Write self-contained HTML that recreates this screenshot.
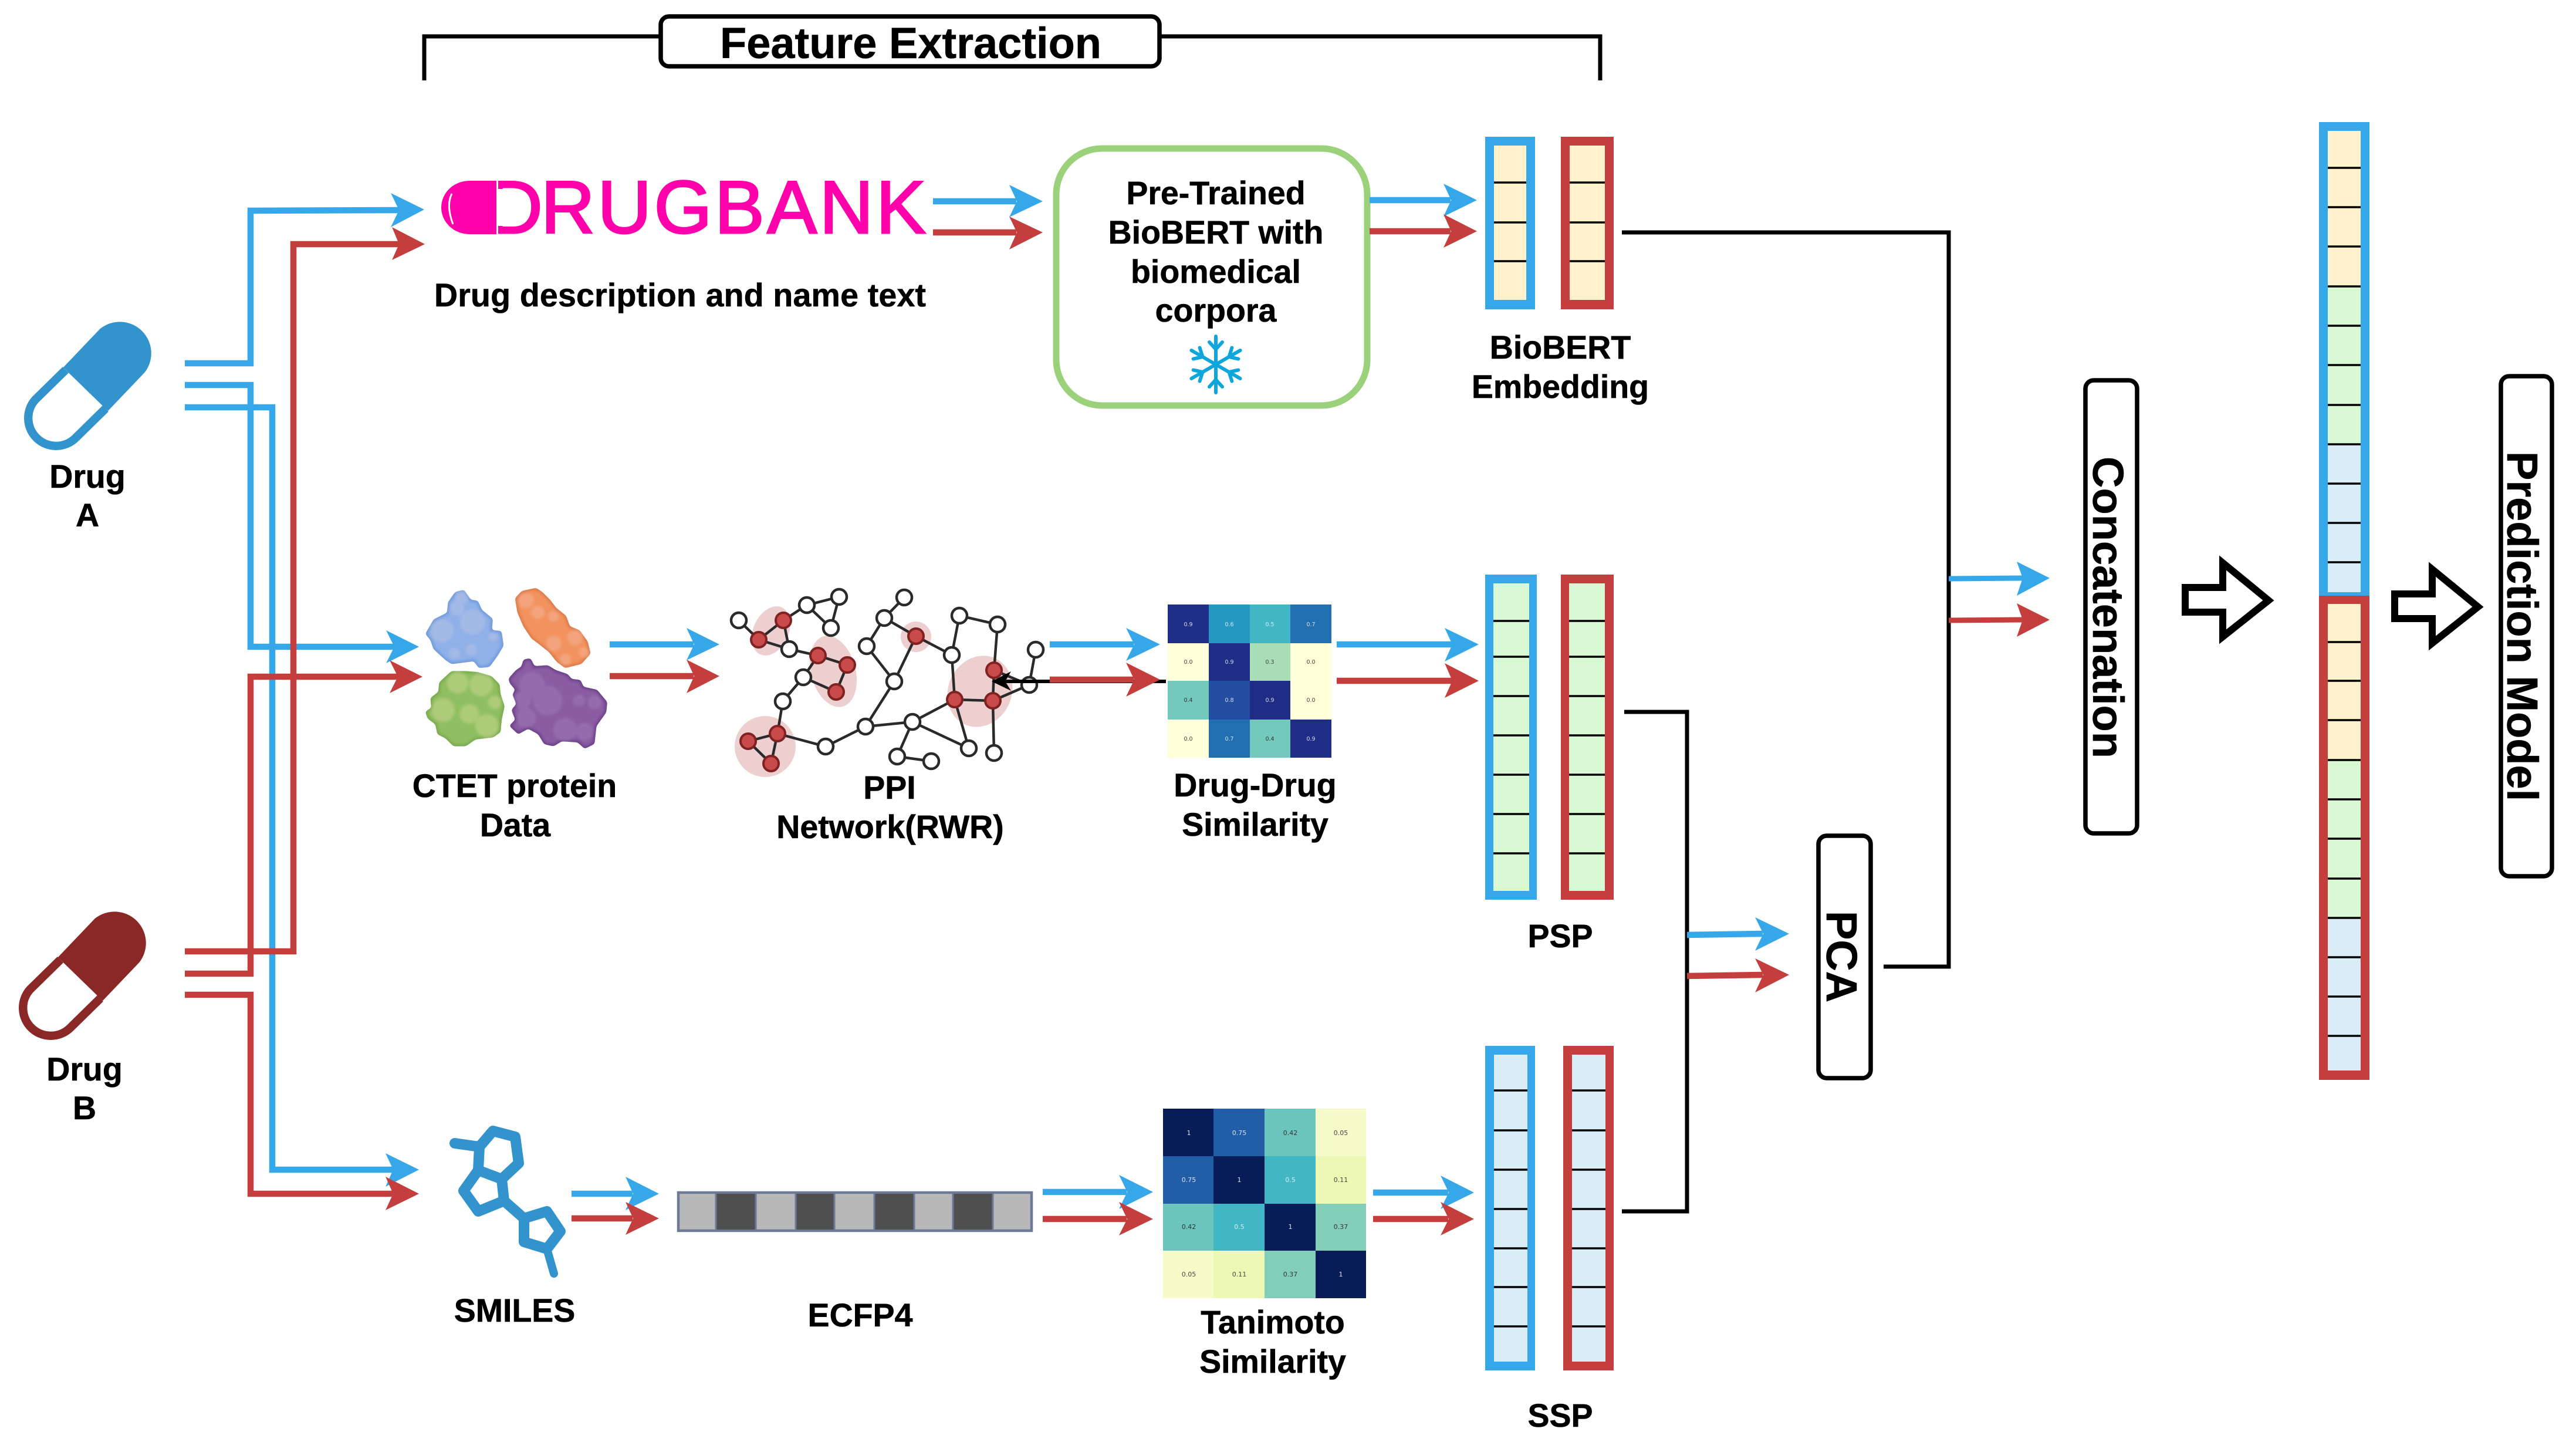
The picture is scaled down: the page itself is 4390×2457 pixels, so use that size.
<!DOCTYPE html>
<html><head><meta charset="utf-8"><title>Drug Interaction Pipeline</title>
<style>
html,body{margin:0;padding:0;background:#fff}
svg{display:block}
text{font-family:"Liberation Sans",Arial,sans-serif}
.l{font-size:55.5px;font-weight:700;text-anchor:middle;fill:#000;stroke:#000;stroke-width:.6}
.t{font-size:74px;font-weight:700;fill:#000;stroke:#000;stroke-width:.6}
.bl{fill:none;stroke:#36a7e9;stroke-width:10.5}
.rl{fill:none;stroke:#c43e3e;stroke-width:10.5}
.bh{fill:#36a7e9}.rh{fill:#c43e3e}
.k{fill:none;stroke:#000;stroke-width:7}
.box{fill:#fff;stroke:#000;stroke-width:7.5}
.sep{stroke:#000;stroke-width:3.5}
.h1{font-family:"DejaVu Sans",sans-serif;font-size:9.5px;text-anchor:middle}
.h2{font-family:"DejaVu Sans",sans-serif;font-size:11px;text-anchor:middle}
.e{stroke:#2a2a2a;stroke-width:4.5;fill:none}
.wn{fill:#fff;stroke:#2a2a2a;stroke-width:4.5}
.rn{fill:#c94a4a;stroke:#7e2222;stroke-width:4}
</style></head>
<body>
<svg xmlns="http://www.w3.org/2000/svg" width="4390" height="2457" viewBox="0 0 4390 2457">
<defs>
<filter id="goo" x="-10%" y="-10%" width="120%" height="120%" color-interpolation-filters="sRGB">
<feGaussianBlur stdDeviation="7"/>
<feComponentTransfer><feFuncA type="linear" slope="10" intercept="-4.5"/></feComponentTransfer>
</filter>
<clipPath id="cpB"><polygon points="140,300 180,230 250,195 255,140 290,90 330,80 365,130 400,135 420,180 475,225 470,285 520,290 530,360 500,410 460,465 410,470 385,435 270,450 240,430 180,375 165,330"/></clipPath>
<clipPath id="cpO"><polygon points="598,120 630,85 700,70 730,90 770,130 800,170 850,210 870,265 920,285 960,340 975,400 930,450 850,470 810,440 770,390 720,350 680,320 640,260 610,190"/></clipPath>
<clipPath id="cpG"><polygon points="140,700 170,680 165,630 205,600 210,550 270,495 340,495 400,500 470,520 510,560 515,610 535,670 520,740 515,800 480,825 390,835 340,870 280,870 240,830 200,810 190,760 150,730"/></clipPath>
<clipPath id="cpP"><polygon points="565,530 600,490 630,470 640,435 670,430 690,470 760,465 800,490 860,510 880,535 925,540 940,575 1010,590 1060,650 1055,700 1005,770 995,860 950,882 915,850 830,845 790,870 745,860 715,810 660,780 610,808 570,770 600,740 580,690 605,660 585,610 600,585 570,550"/></clipPath>
</defs>
<rect width="4390" height="2457" fill="#fff"/>

<!-- Feature extraction bracket -->
<polyline class="k" points="723,137 723,62 1128,62"/>
<polyline class="k" points="1975,62 2727,62 2727,137"/>
<rect x="1126" y="28" width="850" height="85" rx="14" class="box"/>
<text class="t" x="1227" y="99" textLength="650">Feature Extraction</text>

<!-- Pill A -->
<g transform="translate(151.5,655.5) scale(1.03) translate(-151.5,-655.5)">
<path d="M109,627 L170,563 A52,52 0 0 1 244,635 L183,699 Z" fill="#3394cd"/>
<path d="M113,631 L63,680 A46,46 0 0 0 129,744 L179,695" fill="none" stroke="#3394cd" stroke-width="14"/>
</g>
<text class="l" x="149" y="831">Drug</text>
<text class="l" x="149" y="897">A</text>
<!-- Pill B -->
<g transform="translate(-9,1005) translate(151.5,655.5) scale(1.03) translate(-151.5,-655.5)">
<path d="M109,627 L170,563 A52,52 0 0 1 244,635 L183,699 Z" fill="#8a2727"/>
<path d="M113,631 L63,680 A46,46 0 0 0 129,744 L179,695" fill="none" stroke="#8a2727" stroke-width="14"/>
</g>
<text class="l" x="144" y="1841">Drug</text>
<text class="l" x="144" y="1907">B</text>

<!-- Routing from drugs -->
<polyline class="bl" points="315,694 464,694 464,1993 672,1993"/>
<path class="bh" d="M657,1965 714,1993 657,2022 670,1993Z"/>
<polyline class="bl" points="315,619 427,619 427,359 682,358"/>
<path class="bh" d="M666,329 723,357 666,387 680,358Z"/>
<polyline class="bl" points="315,656 427,656 427,1102 672,1102"/>
<path class="bh" d="M658,1074 714,1102 658,1130 672,1102Z"/>
<polyline class="rl" points="315,1621 500,1621 500,416 682,416"/>
<path class="rh" d="M668,387 724,416 668,443 680,416Z"/>
<polyline class="rl" points="315,1659 427,1659 427,1153 680,1153"/>
<path class="rh" d="M664,1125 720,1153 664,1181 678,1153Z"/>
<polyline class="rl" points="315,1695 427,1695 427,2034 672,2034"/>
<path class="rh" d="M657,2005 714,2034 657,2062 670,2034Z"/>

<!-- Drugbank logo -->
<path d="M846,308 L800,308 A48,45.5 0 0 0 752,353.5 A48,45.5 0 0 0 800,399 L846,399 Z" fill="#ff00aa"/>
<path d="M770,330 Q760,350 772,382" fill="none" stroke="#fff" stroke-width="3"/>
<text fill="#ff00aa" stroke="#ff00aa" stroke-width="3" font-size="127"><tspan x="833" y="397">D</tspan><tspan x="922" y="397" letter-spacing="4.6">RUGBANK</tspan></text>
<rect x="846" y="322" width="16" height="63" fill="#fff"/>
<rect x="846" y="304" width="3" height="99" fill="#fff"/>
<text class="l" x="1159" y="522" textLength="838">Drug description and name text</text>

<!-- Drugbank -> BioBERT -->
<line class="bl" x1="1590" y1="343" x2="1732" y2="343"/>
<path class="bh" d="M1720,315 1777,343 1720,370 1733,343Z"/>
<line class="rl" x1="1590" y1="396" x2="1732" y2="396"/>
<path class="rh" d="M1720,369 1777,396 1720,425 1733,396Z"/>

<rect x="1800" y="253" width="530" height="438" rx="78" fill="#fff" stroke="#9bd17a" stroke-width="11"/>
<text class="l" x="2072" y="348">Pre-Trained</text>
<text class="l" x="2072" y="415">BioBERT with</text>
<text class="l" x="2072" y="482">biomedical</text>
<text class="l" x="2072" y="548">corpora</text>
<!-- Snowflake -->
<g transform="translate(2072,621)" stroke="#0fa6dc" stroke-width="6" fill="none" stroke-linecap="round">
<path d="M0,-48V48M-11,-38L0,-26 11,-38M-11,38L0,26 11,38"/>
<g transform="rotate(60)"><path d="M0,-48V48M-11,-38L0,-26 11,-38M-11,38L0,26 11,38"/></g>
<g transform="rotate(120)"><path d="M0,-48V48M-11,-38L0,-26 11,-38M-11,38L0,26 11,38"/></g>
</g>

<!-- arrows to BioBERT bars -->
<line class="bl" x1="2334" y1="341" x2="2472" y2="341"/>
<path class="bh" d="M2460,313 2517,341 2460,369 2473,341Z"/>
<line class="rl" x1="2334" y1="394" x2="2472" y2="394"/>
<path class="rh" d="M2460,365 2517,394 2460,422 2473,394Z"/>

<!-- BioBERT bars -->
<rect x="2531" y="233" width="85" height="294" fill="#36a7e9"/>
<rect x="2546" y="248" width="55" height="263" fill="#fff2cc"/>
<rect x="2660" y="233" width="90" height="294" fill="#c43e3e"/>
<rect x="2675" y="248" width="60" height="263" fill="#fff2cc"/>
<path class="sep" d="M2546,311H2601M2546,379H2601M2546,445H2601M2675,311H2735M2675,379H2735M2675,445H2735"/>
<text class="l" x="2659" y="611">BioBERT</text>
<text class="l" x="2659" y="678">Embedding</text>
<polyline class="k" points="2764,396 3321,396 3321,1647 3210,1647"/>

<!-- Proteins -->
<g transform="translate(680,980) scale(.3333)">
<g filter="url(#goo)" stroke-width="10" stroke-linejoin="round">
<polygon points="140,300 180,230 250,195 255,140 290,90 330,80 365,130 400,135 420,180 475,225 470,285 520,290 530,360 500,410 460,465 410,470 385,435 270,450 240,430 180,375 165,330" fill="#8fb0e8" stroke="#7099d8"/>
<g fill="#a3b9e6" clip-path="url(#cpB)"><circle cx="320" cy="115" r="35"/><circle cx="295" cy="170" r="38"/><circle cx="220" cy="285" r="60"/><circle cx="375" cy="240" r="65"/><circle cx="285" cy="400" r="30"/><circle cx="370" cy="380" r="30"/><circle cx="480" cy="315" r="25"/></g>
</g>
<g filter="url(#goo)" stroke-width="10" stroke-linejoin="round">
<polygon points="598,120 630,85 700,70 730,90 770,130 800,170 850,210 870,265 920,285 960,340 975,400 930,450 850,470 810,440 770,390 720,350 680,320 640,260 610,190" fill="#f2925e" stroke="#d97a4a"/>
<g fill="#f3a47c" clip-path="url(#cpO)"><circle cx="650" cy="130" r="40"/><circle cx="710" cy="190" r="35"/><circle cx="790" cy="210" r="28"/><circle cx="790" cy="350" r="40"/><circle cx="900" cy="320" r="40"/><circle cx="850" cy="430" r="30"/><circle cx="945" cy="395" r="26"/></g>
</g>
<g filter="url(#goo)" stroke-width="10" stroke-linejoin="round">
<polygon points="140,700 170,680 165,630 205,600 210,550 270,495 340,495 400,500 470,520 510,560 515,610 535,670 520,740 515,800 480,825 390,835 340,870 280,870 240,830 200,810 190,760 150,730" fill="#8fbf60" stroke="#7aa850"/>
<g fill="#aecb7a" clip-path="url(#cpG)"><circle cx="300" cy="550" r="55"/><circle cx="420" cy="560" r="60"/><circle cx="225" cy="690" r="60"/><circle cx="360" cy="710" r="50"/><circle cx="450" cy="770" r="60"/><circle cx="490" cy="650" r="35"/></g>
</g>
<g filter="url(#goo)" stroke-width="10" stroke-linejoin="round">
<polygon points="565,530 600,490 630,470 640,435 670,430 690,470 760,465 800,490 860,510 880,535 925,540 940,575 1010,590 1060,650 1055,700 1005,770 995,860 950,882 915,850 830,845 790,870 745,860 715,810 660,780 610,808 570,770 600,740 580,690 605,660 585,610 600,585 570,550" fill="#8a5da3" stroke="#6a3f86"/>
<g fill="#946cae" clip-path="url(#cpP)"><circle cx="680" cy="560" r="65"/><circle cx="760" cy="640" r="75"/><circle cx="630" cy="640" r="45"/><circle cx="650" cy="730" r="50"/><circle cx="850" cy="790" r="60"/><circle cx="950" cy="800" r="45"/><circle cx="1000" cy="650" r="35"/><circle cx="920" cy="640" r="30"/></g>
</g>
</g>
<text class="l" x="877" y="1358">CTET protein</text>
<text class="l" x="878" y="1425">Data</text>

<line class="bl" x1="1039" y1="1098" x2="1182" y2="1098"/>
<path class="bh" d="M1170,1070 1226,1098 1170,1125 1183,1098Z"/>
<line class="rl" x1="1039" y1="1152" x2="1182" y2="1152"/>
<path class="rh" d="M1170,1124 1226,1152 1170,1181 1183,1152Z"/>

<!-- PPI network -->
<g fill="#eecfcf">
<ellipse cx="1314" cy="1075" rx="30" ry="44" transform="rotate(25 1314 1075)"/>
<ellipse cx="1420" cy="1144" rx="38" ry="62" transform="rotate(-15 1420 1144)"/>
<ellipse cx="1561" cy="1085" rx="26" ry="26"/>
<ellipse cx="1670" cy="1178" rx="54" ry="62" transform="rotate(25 1670 1178)"/>
<ellipse cx="1304" cy="1272" rx="52" ry="52"/>
</g>
<path class="e" d="M1259,1057L1293,1090L1335,1057L1375,1031L1430,1017L1416,1070L1375,1031M1335,1057L1345,1106L1293,1090M1345,1106L1394,1117L1444,1133L1425,1179L1369,1154L1394,1117M1369,1154L1334,1195L1325,1250L1275,1263L1314,1301L1325,1250L1407,1272L1475,1238L1555,1230L1627,1192L1692,1194L1754,1167L1765,1107M1475,1238L1524,1161L1561,1084L1507,1053L1541,1018M1524,1161L1477,1101L1507,1053M1561,1084L1622,1116L1635,1049L1700,1064L1694,1142L1692,1194L1694,1283M1622,1116L1627,1192L1651,1275L1555,1230L1529,1289L1587,1297M1694,1142L1754,1167"/>
<g class="wn">
<circle cx="1259" cy="1057" r="13"/><circle cx="1375" cy="1031" r="13"/><circle cx="1430" cy="1017" r="13"/><circle cx="1416" cy="1070" r="13"/><circle cx="1345" cy="1106" r="13"/><circle cx="1541" cy="1018" r="13"/><circle cx="1507" cy="1053" r="13"/><circle cx="1477" cy="1101" r="13"/><circle cx="1524" cy="1161" r="13"/><circle cx="1635" cy="1049" r="13"/><circle cx="1700" cy="1064" r="13"/><circle cx="1622" cy="1116" r="13"/><circle cx="1765" cy="1107" r="13"/><circle cx="1754" cy="1167" r="13"/><circle cx="1369" cy="1154" r="13"/><circle cx="1334" cy="1195" r="13"/><circle cx="1475" cy="1238" r="13"/><circle cx="1555" cy="1230" r="13"/><circle cx="1407" cy="1272" r="13"/><circle cx="1651" cy="1275" r="13"/><circle cx="1694" cy="1283" r="13"/><circle cx="1529" cy="1289" r="13"/><circle cx="1587" cy="1297" r="13"/>
</g>
<g class="rn">
<circle cx="1335" cy="1057" r="13"/><circle cx="1293" cy="1090" r="13"/><circle cx="1394" cy="1117" r="13"/><circle cx="1444" cy="1133" r="13"/><circle cx="1425" cy="1179" r="13"/><circle cx="1561" cy="1084" r="13"/><circle cx="1694" cy="1142" r="13"/><circle cx="1627" cy="1192" r="13"/><circle cx="1692" cy="1194" r="13"/><circle cx="1325" cy="1250" r="13"/><circle cx="1275" cy="1263" r="13"/><circle cx="1314" cy="1301" r="13"/>
</g>
<text class="l" x="1516" y="1361">PPI</text>
<text class="l" x="1517" y="1428">Network(RWR)</text>

<!-- Heatmap 1 -->
<g>
<rect x="1990" y="1030" width="70" height="66" fill="#1f2f88"/><rect x="2060" y="1030" width="70" height="66" fill="#2498c1"/><rect x="2130" y="1030" width="69" height="66" fill="#41b6c4"/><rect x="2199" y="1030" width="70" height="66" fill="#216fb0"/>
<rect x="1990" y="1096" width="70" height="64" fill="#ffffd9"/><rect x="2060" y="1096" width="70" height="64" fill="#1f2d86"/><rect x="2130" y="1096" width="69" height="64" fill="#a9ddb7"/><rect x="2199" y="1096" width="70" height="64" fill="#ffffd9"/>
<rect x="1990" y="1160" width="70" height="66" fill="#74c9bd"/><rect x="2060" y="1160" width="70" height="66" fill="#234da0"/><rect x="2130" y="1160" width="69" height="66" fill="#1f2d86"/><rect x="2199" y="1160" width="70" height="66" fill="#ffffd9"/>
<rect x="1990" y="1226" width="70" height="65" fill="#ffffd9"/><rect x="2060" y="1226" width="70" height="65" fill="#216eb0"/><rect x="2130" y="1226" width="69" height="65" fill="#74c9bd"/><rect x="2199" y="1226" width="70" height="65" fill="#1f2d86"/>
</g>
<text class="h1" x="2025" y="1067" fill="#d5dbe8">0.9</text><text class="h1" x="2095" y="1067" fill="#d5e8ee">0.6</text><text class="h1" x="2164" y="1067" fill="#d5eef0">0.5</text><text class="h1" x="2234" y="1067" fill="#d5e0ec">0.7</text>
<text class="h1" x="2025" y="1131" fill="#444">0.0</text><text class="h1" x="2095" y="1131" fill="#d5dbe8">0.9</text><text class="h1" x="2164" y="1131" fill="#444">0.3</text><text class="h1" x="2234" y="1131" fill="#444">0.0</text>
<text class="h1" x="2025" y="1196" fill="#333">0.4</text><text class="h1" x="2095" y="1196" fill="#d5dbe8">0.8</text><text class="h1" x="2164" y="1196" fill="#d5dbe8">0.9</text><text class="h1" x="2234" y="1196" fill="#444">0.0</text>
<text class="h1" x="2025" y="1262" fill="#444">0.0</text><text class="h1" x="2095" y="1262" fill="#d5e0ec">0.7</text><text class="h1" x="2164" y="1262" fill="#333">0.4</text><text class="h1" x="2234" y="1262" fill="#d5dbe8">0.9</text>

<!-- PPI -> heatmap (with black arrow underneath) -->
<line x1="1987" y1="1161" x2="1705" y2="1161" stroke="#000" stroke-width="6"/>
<path d="M1723,1144 1690,1161 1723,1177 1713,1161Z" fill="#000"/>
<line class="bl" x1="1789" y1="1098" x2="1932" y2="1098"/>
<path class="bh" d="M1919,1070 1977,1098 1919,1126 1933,1098Z"/>
<line class="rl" x1="1789" y1="1158" x2="1932" y2="1158"/>
<path class="rh" d="M1919,1129 1977,1158 1919,1187 1933,1158Z"/>
<text class="l" x="2139" y="1357">Drug-Drug</text>
<text class="l" x="2139" y="1424">Similarity</text>

<!-- heatmap -> PSP -->
<line class="bl" x1="2278" y1="1098" x2="2476" y2="1098"/>
<path class="bh" d="M2462,1070 2520,1098 2462,1127 2475,1098Z"/>
<line class="rl" x1="2278" y1="1160" x2="2476" y2="1160"/>
<path class="rh" d="M2462,1130 2520,1160 2462,1189 2475,1160Z"/>

<!-- PSP bars -->
<rect x="2531" y="979" width="88" height="554" fill="#36a7e9"/>
<rect x="2545" y="994" width="61" height="524" fill="#d9f8d4"/>
<rect x="2660" y="979" width="90" height="554" fill="#c43e3e"/>
<rect x="2674" y="994" width="61" height="524" fill="#d9f8d4"/>
<path class="sep" d="M2545,1058H2606M2545,1119H2606M2545,1186H2606M2545,1253H2606M2545,1320H2606M2545,1387H2606M2545,1454H2606M2674,1058H2735M2674,1119H2735M2674,1186H2735M2674,1253H2735M2674,1320H2735M2674,1387H2735M2674,1454H2735"/>
<text class="l" x="2659" y="1614">PSP</text>

<polyline class="k" points="2768,1213 2875,1213 2875,2064 2764,2064"/>

<!-- SMILES molecule -->
<g fill="none" stroke="#3394cd" stroke-width="18" stroke-linejoin="round" stroke-linecap="round">
<path d="M775,1948L817,1954L840,1927L878,1937L884,1982L855,2009L815,1994L817,1954"/>
<path d="M815,1994L790,2029L815,2064L859,2046L855,2009"/>
<path d="M859,2046L893,2076L932,2064L955,2098L932,2128L893,2116L893,2076"/>
<path d="M932,2128L944,2170" stroke-width="14"/>
</g>
<text class="l" x="877" y="2252">SMILES</text>

<line class="bl" x1="974" y1="2034" x2="1078" y2="2034"/>
<path class="bh" d="M1066,2005 1123,2034 1066,2062 1079,2034Z"/>
<line class="rl" x1="974" y1="2076" x2="1078" y2="2076"/>
<path class="rh" d="M1066,2048 1123,2076 1066,2104 1079,2076Z"/>

<!-- ECFP4 bar -->
<rect x="1156" y="2032" width="602" height="65" fill="#b8b8b8" stroke="#6c7a96" stroke-width="4.5"/>
<rect x="1220" y="2034" width="68" height="61" fill="#4f4f4f"/>
<rect x="1356" y="2034" width="66" height="61" fill="#4f4f4f"/>
<rect x="1490" y="2034" width="68" height="61" fill="#4f4f4f"/>
<rect x="1624" y="2034" width="68" height="61" fill="#4f4f4f"/>
<path stroke="#6c7a96" stroke-width="3" d="M1220,2032V2097M1288,2032V2097M1356,2032V2097M1422,2032V2097M1490,2032V2097M1558,2032V2097M1624,2032V2097M1692,2032V2097"/>
<text class="l" x="1466" y="2260">ECFP4</text>

<line class="bl" x1="1777" y1="2031" x2="1920" y2="2031"/>
<path class="bh" d="M1907,2002 1965,2031 1907,2060 1921,2031Z"/>
<line class="rl" x1="1777" y1="2077" x2="1920" y2="2077"/>

<!-- Heatmap 2 -->
<g>
<rect x="1982" y="1889" width="86" height="81" fill="#081d58"/><rect x="2068" y="1889" width="87" height="81" fill="#225ea8"/><rect x="2155" y="1889" width="87" height="81" fill="#6cc5bc"/><rect x="2242" y="1889" width="86" height="81" fill="#f6fbc9"/>
<rect x="1982" y="1970" width="86" height="81" fill="#225ea8"/><rect x="2068" y="1970" width="87" height="81" fill="#081d58"/><rect x="2155" y="1970" width="87" height="81" fill="#41b6c4"/><rect x="2242" y="1970" width="86" height="81" fill="#edf8b4"/>
<rect x="1982" y="2051" width="86" height="80" fill="#6cc5bc"/><rect x="2068" y="2051" width="87" height="80" fill="#41b6c4"/><rect x="2155" y="2051" width="87" height="80" fill="#081d58"/><rect x="2242" y="2051" width="86" height="80" fill="#83ceb8"/>
<rect x="1982" y="2131" width="86" height="81" fill="#f6fbc9"/><rect x="2068" y="2131" width="87" height="81" fill="#edf8b4"/><rect x="2155" y="2131" width="87" height="81" fill="#83ceb8"/><rect x="2242" y="2131" width="86" height="81" fill="#081d58"/>
</g>
<text class="h2" x="2026" y="1934" fill="#dfe3ec">1</text><text class="h2" x="2112" y="1934" fill="#d8e3f0">0.75</text><text class="h2" x="2199" y="1934" fill="#333">0.42</text><text class="h2" x="2285" y="1934" fill="#444">0.05</text>
<text class="h2" x="2026" y="2014" fill="#d8e3f0">0.75</text><text class="h2" x="2112" y="2014" fill="#dfe3ec">1</text><text class="h2" x="2199" y="2014" fill="#d8f0f2">0.5</text><text class="h2" x="2285" y="2014" fill="#444">0.11</text>
<text class="h2" x="2026" y="2094" fill="#333">0.42</text><text class="h2" x="2112" y="2094" fill="#d8f0f2">0.5</text><text class="h2" x="2199" y="2094" fill="#dfe3ec">1</text><text class="h2" x="2285" y="2094" fill="#333">0.37</text>
<text class="h2" x="2026" y="2175" fill="#444">0.05</text><text class="h2" x="2112" y="2175" fill="#444">0.11</text><text class="h2" x="2199" y="2175" fill="#333">0.37</text><text class="h2" x="2285" y="2175" fill="#dfe3ec">1</text>
<path class="rh" d="M1907,2048 1965,2077 1907,2105 1921,2077Z"/>
<text class="l" x="2169" y="2272">Tanimoto</text>
<text class="l" x="2169" y="2339">Similarity</text>

<line class="bl" x1="2340" y1="2032" x2="2468" y2="2032"/>
<path class="bh" d="M2455,2003 2512,2032 2455,2060 2469,2032Z"/>
<line class="rl" x1="2340" y1="2077" x2="2468" y2="2077"/>
<path class="rh" d="M2455,2048 2512,2077 2455,2105 2469,2077Z"/>

<!-- SSP bars -->
<rect x="2531" y="1782" width="85" height="553" fill="#36a7e9"/>
<rect x="2546" y="1797" width="57" height="523" fill="#d8edf6"/>
<rect x="2664" y="1782" width="86" height="553" fill="#c43e3e"/>
<rect x="2679" y="1797" width="57" height="523" fill="#d8edf6"/>
<path class="sep" d="M2546,1858H2603M2546,1926H2603M2546,1993H2603M2546,2060H2603M2546,2127H2603M2546,2193H2603M2546,2260H2603M2679,1858H2736M2679,1926H2736M2679,1993H2736M2679,2060H2736M2679,2127H2736M2679,2193H2736M2679,2260H2736"/>
<text class="l" x="2659" y="2431">SSP</text>

<!-- PCA -->
<line class="bl" x1="2875" y1="1593" x2="3004" y2="1591"/>
<path class="bh" d="M2991,1563 3049,1591 2991,1620 3005,1591Z"/>
<line class="rl" x1="2875" y1="1663" x2="3004" y2="1661"/>
<path class="rh" d="M2991,1633 3049,1661 2991,1691 3005,1661Z"/>
<rect x="3099" y="1424" width="89" height="413" rx="14" class="box"/>
<text class="t" transform="translate(3113,1552) rotate(90)">PCA</text>

<!-- Concat -->
<line x1="3321" y1="986" x2="3448" y2="985" stroke="#36a7e9" stroke-width="9"/>
<path class="bh" d="M3437,957 3493,985 3437,1015 3447,985Z"/>
<line x1="3321" y1="1057" x2="3448" y2="1056" stroke="#c43e3e" stroke-width="9"/>
<path class="rh" d="M3437,1028 3493,1056 3437,1085 3447,1056Z"/>
<rect x="3554" y="648" width="88" height="772" rx="14" class="box"/>
<text class="t" transform="translate(3567,778) rotate(90)">Concatenation</text>

<!-- hollow arrows -->
<path d="M3724,1001H3788V959L3866,1023L3788,1085V1043H3724Z" fill="#fff" stroke="#000" stroke-width="12"/>
<path d="M4081,1012H4145V970L4223,1034L4145,1096V1054H4081Z" fill="#fff" stroke="#000" stroke-width="12"/>

<!-- Final vector -->
<rect x="3952" y="208" width="86" height="807" fill="#36a7e9"/>
<rect x="3967" y="223" width="56" height="265" fill="#fff2cc"/>
<rect x="3967" y="488" width="56" height="269" fill="#d9f8d4"/>
<rect x="3967" y="757" width="56" height="252" fill="#d8edf6"/>
<rect x="3952" y="1015" width="86" height="825" fill="#c43e3e"/>
<rect x="3967" y="1029" width="56" height="266" fill="#fff2cc"/>
<rect x="3967" y="1295" width="56" height="269" fill="#d9f8d4"/>
<rect x="3967" y="1564" width="56" height="260" fill="#d8edf6"/>
<path class="sep" d="M3967,286H4023M3967,353H4023M3967,420H4023M3967,488H4023M3967,555H4023M3967,622H4023M3967,690H4023M3967,757H4023M3967,824H4023M3967,891H4023M3967,958H4023M3967,1094H4023M3967,1160H4023M3967,1227H4023M3967,1295H4023M3967,1362H4023M3967,1429H4023M3967,1497H4023M3967,1564H4023M3967,1631H4023M3967,1698H4023M3967,1765H4023"/>

<!-- Prediction -->
<rect x="4262" y="641" width="87" height="852" rx="14" class="box"/>
<text class="t" transform="translate(4273,769) rotate(90)">Prediction Model</text>
</svg>
</body></html>
